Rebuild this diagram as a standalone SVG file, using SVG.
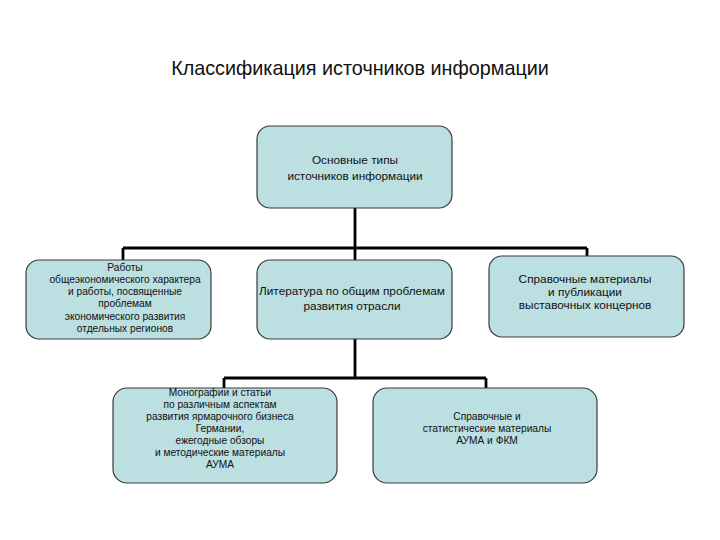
<svg xmlns="http://www.w3.org/2000/svg" width="720" height="540" viewBox="0 0 720 540">
<style>
.box{fill:#bcdfe2;stroke:#3a3a3a;stroke-width:1.2}
.t{font-family:"Liberation Sans",Arial,sans-serif;fill:#111;text-anchor:middle}
.s10{font-size:10.2px}
.s11{font-size:11.8px}
.conn{fill:none;stroke:#000;stroke-width:2.8}
</style>
<rect width="720" height="540" fill="#fff"/>
<text class="t" x="360" y="75" font-size="19.8">Классификация источников информации</text>
<g id="connectors">
<path class="conn" d="M355 208V262M123 248H587M123 248V260M587 248V256"/>
<path class="conn" d="M355 339V378M224 378H486M224 378V388M486 378V388"/>
</g>
<g id="n-top">
<rect class="box" x="257" y="126" width="195" height="82" rx="13"/>
<text class="t s11" x="355" y="164">Основные типы</text>
<text class="t s11" x="355" y="180">источников информации</text>
</g>
<g id="n-left">
<rect class="box" x="26" y="260" width="185" height="79" rx="13"/>
<text class="t s10" x="125" y="271">Работы</text>
<text class="t s10" x="125" y="283">общеэкономического характера</text>
<text class="t s10" x="125" y="295">и работы, посвященные</text>
<text class="t s10" x="125" y="307">проблемам</text>
<text class="t s10" x="125" y="320">экономического развития</text>
<text class="t s10" x="125" y="332">отдельных регионов</text>
</g>
<g id="n-mid">
<rect class="box" x="257" y="260" width="195" height="79" rx="13"/>
<text class="t s11" x="352" y="295">Литература по общим проблемам</text>
<text class="t s11" x="352" y="310">развития отрасли</text>
</g>
<g id="n-right">
<rect class="box" x="489" y="256" width="195" height="81" rx="13"/>
<text class="t s11" x="585" y="283">Справочные материалы</text>
<text class="t s11" x="585" y="296">и публикации</text>
<text class="t s11" x="585" y="309">выставочных концернов</text>
</g>
<g id="n-bl">
<rect class="box" x="113" y="388" width="224" height="95" rx="14"/>
<text class="t s10" x="220" y="396">Монографии и статьи</text>
<text class="t s10" x="220" y="408">по различным аспектам</text>
<text class="t s10" x="220" y="420">развития ярмарочного бизнеса</text>
<text class="t s10" x="220" y="432">Германии,</text>
<text class="t s10" x="220" y="444">ежегодные обзоры</text>
<text class="t s10" x="220" y="456">и методические материалы</text>
<text class="t s10" x="220" y="468">АУМА</text>
</g>
<g id="n-br">
<rect class="box" x="373" y="388" width="224" height="95" rx="14"/>
<text class="t s10" x="487" y="420">Справочные и</text>
<text class="t s10" x="487" y="432">статистические материалы</text>
<text class="t s10" x="487" y="444">АУМА и ФКМ</text>
</g>
</svg>
